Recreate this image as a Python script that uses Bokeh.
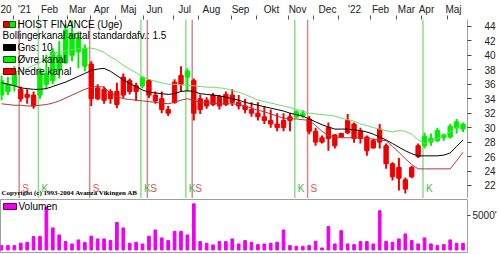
from bokeh.plotting import figure
from bokeh.layouts import column
from bokeh.models import Range1d, FixedTicker, Span, Label, BoxAnnotation, ColumnDataSource
from bokeh.embed import file_html
from bokeh.resources import INLINE

# ---------------- data (weekly bars, index = week number) ----------------
opens = [34.5, 35.0, 35.8, 35.3, 34.2, 34.5, 34.5, 37.5, 36.5, 40.0, 39.0, 43.0, 40.5, 41.0, 38.8, 34.0,
         35.3, 34.0, 35.0, 34.5, 36.5, 35.0, 35.8, 36.5, 34.5, 34.0, 32.5, 33.5, 36.0, 37.0, 36.5, 32.5,
         33.8, 33.2, 34.3, 33.2, 34.5, 33.5, 33.0, 32.5, 32.0, 31.5, 31.0, 30.5, 30.0, 31.0, 31.5, 32.0,
         31.2, 29.5, 28.0, 28.5, 29.0, 28.7, 29.3, 30.5, 28.5, 28.7, 27.2, 28.0, 27.5, 25.0, 23.0, 22.8,
         23.2, 26.0, 27.5, 28.5, 28.2, 29.0, 28.7, 30.0, 30.5]
highs = [37.2, 37.0, 38.5, 35.7, 35.3, 35.0, 38.2, 40.1, 41.0, 42.0, 44.3, 44.8, 43.3, 41.5, 39.2, 36.0,
         35.7, 35.3, 36.2, 37.5, 36.8, 36.2, 37.1, 36.7, 35.0, 35.0, 33.0, 36.7, 38.5, 38.2, 36.8, 34.6,
         34.2, 34.8, 34.5, 35.0, 35.3, 34.5, 34.0, 33.5, 33.5, 33.0, 32.5, 32.0, 32.0, 32.0, 32.4, 32.4,
         31.6, 30.0, 28.9, 30.7, 29.1, 29.3, 31.9, 30.7, 30.0, 28.9, 28.5, 30.5, 27.8, 25.2, 25.8, 23.1,
         24.7, 27.8, 29.3, 29.2, 30.0, 29.2, 30.5, 31.2, 30.7]
lows = [33.8, 34.5, 35.0, 33.6, 33.3, 32.6, 34.0, 35.3, 36.0, 36.8, 38.8, 39.2, 38.2, 37.8, 33.0, 33.8,
        33.3, 33.3, 32.7, 34.1, 34.6, 33.7, 35.5, 34.1, 33.3, 32.0, 31.6, 33.3, 35.0, 35.0, 31.0, 31.9,
        32.6, 33.0, 32.5, 33.0, 33.0, 32.5, 32.0, 31.5, 31.0, 30.5, 30.0, 29.5, 29.5, 29.5, 31.3, 31.3,
        29.1, 27.5, 27.8, 26.8, 27.1, 28.6, 29.1, 27.9, 27.8, 26.1, 27.1, 27.1, 24.3, 22.7, 21.3, 20.9,
        23.0, 25.8, 27.1, 27.5, 28.0, 28.2, 28.5, 29.2, 29.4]
closes = [36.5, 36.0, 37.8, 34.0, 34.6, 33.0, 37.8, 36.0, 40.5, 38.0, 43.5, 40.0, 42.5, 38.5, 34.0, 35.5,
          33.8, 35.0, 33.2, 37.0, 35.0, 35.8, 36.9, 34.5, 33.7, 32.5, 32.0, 36.3, 37.2, 37.8, 32.0, 34.0,
          33.0, 34.5, 33.0, 34.6, 33.5, 33.0, 32.5, 32.0, 31.5, 31.0, 30.5, 30.0, 31.0, 31.5, 32.2, 31.6,
          29.5, 28.0, 28.6, 30.0, 27.5, 29.2, 31.0, 28.5, 29.5, 26.8, 28.2, 29.8, 25.0, 23.2, 24.5, 21.5,
          24.5, 27.5, 28.8, 28.0, 29.6, 28.6, 30.2, 30.8, 29.8]
# Bollinger channel (Gns: 10, 1.5 std)
band_mid = [36.2, 36.0, 35.8, 35.5, 35.4, 35.3, 35.3, 35.4, 35.7, 36.0, 36.3, 36.7, 37.1, 37.5, 37.9, 38.1,
            38.2, 37.8, 37.2, 36.6, 36.1, 35.7, 35.2, 34.9, 34.8, 34.7, 34.6, 34.7, 35.0, 35.1, 35.0, 34.7,
            34.6, 34.5, 34.4, 34.2, 34.0, 33.8, 33.5, 33.3, 33.1, 32.9, 32.7, 32.5, 32.3, 32.0, 31.8, 31.6,
            31.2, 30.8, 30.4, 30.1, 29.8, 29.8, 29.8, 29.7, 29.6, 29.4, 29.1, 28.7, 28.3, 27.8, 27.3, 26.8,
            26.4, 26.1, 26.1, 26.1, 26.1, 26.2, 26.5, 27.4, 28.3]
band_upper = [37.5, 37.6, 37.7, 37.8, 38.2, 38.6, 39.0, 39.4, 40.3, 40.4, 40.6, 40.8, 40.9, 41.0, 41.0, 40.8,
              40.4, 39.8, 39.3, 38.6, 38.1, 37.6, 37.0, 36.7, 36.4, 36.2, 36.0, 36.0, 35.9, 35.9, 35.8, 35.7,
              35.6, 35.6, 35.5, 35.4, 35.1, 34.9, 34.6, 34.2, 33.8, 33.6, 33.4, 33.2, 33.0, 32.8, 32.5, 32.3,
              32.0, 31.9, 31.8, 31.7, 31.6, 31.3, 31.1, 30.9, 30.5, 30.3, 30.0, 29.8, 29.6, 29.4, 29.6, 29.5,
              29.1, 28.3, 27.8, 28.2, 28.5, 28.9, 29.4, 30.0, 30.6]
band_lower = [33.3, 33.2, 33.1, 33.1, 33.0, 33.0, 33.1, 33.2, 33.4, 33.7, 34.1, 34.5, 34.9, 35.3, 35.6, 35.7,
              35.6, 34.8, 34.3, 34.0, 33.9, 33.8, 33.7, 33.6, 33.5, 33.4, 33.3, 33.5, 33.8, 34.0, 33.8, 33.5,
              33.4, 33.4, 33.3, 33.3, 33.3, 33.2, 33.0, 32.7, 32.4, 32.2, 31.9, 31.6, 31.3, 31.2, 31.2, 31.1,
              31.0, 30.3, 29.5, 28.9, 28.7, 28.6, 28.6, 28.6, 28.6, 28.5, 28.4, 28.3, 28.2, 27.4, 26.6, 25.7,
              24.9, 24.3, 24.3, 24.3, 24.3, 24.3, 24.3, 25.4, 26.6]
volume = [630, 630, 630, 970, 1120, 1940, 1940, 6200, 3200, 2180, 1210, 870, 1460, 1070, 2000, 1600,
          1600, 1360, 4000, 3200, 970, 1120, 870, 2000, 2900, 1750, 1360, 2700, 2700, 2180, 6700, 1210,
          970, 730, 1210, 1210, 1600, 870, 1360, 1120, 780, 870, 970, 1120, 2900, 630, 530, 530,
          630, 1260, 290, 3400, 870, 2800, 870, 780, 1210, 1210, 870, 5700, 1260, 1120, 1600, 2330,
          1360, 870, 1750, 870, 630, 780, 1460, 970, 970]
buy_signals = [6, 22, 29, 46, 66]     # "K"
sell_signals = [3, 14, 23, 30, 48]    # "S"
price_ticks = [22, 24, 26, 28, 30, 32, 34, 36, 38, 40, 42, 44]
volume_ticks = [5000]
month_bounds = [1.87, 5.77, 10.30, 13.88, 17.78, 22.15, 26.83, 30.73, 35.88, 39.78, 44.77, 48.67,
                52.57, 57.57, 61.62, 65.52, 69.58]
month_label_pos = [0.39, 3.59, 7.49, 11.86, 15.60, 19.81, 23.87, 28.55, 32.76, 37.29, 42.12, 46.18,
                   50.86, 55.07, 59.13, 63.18, 66.30, 70.51]
month_labels = ["20", "'21", "Feb", "Mar", "Apr", "Maj", "Jun", "Jul", "Aug", "Sep", "Okt", "Nov",
                "Dec", "'22", "Feb", "Mar", "Apr", "Maj"]

GREEN = "#00ee00"
RED = "#ee0000"
FONT = "Liberation Sans"

n = len(closes)
x = list(range(n))
events = sorted([(i, "K") for i in buy_signals] + [(i, "S") for i in sell_signals])
colors = []
for i in x:
    state = "K"
    for ei, kind in events:
        if ei <= i:
            state = kind
    colors.append(GREEN if state == "K" else RED)

src = ColumnDataSource(dict(
    x=x, o=opens, h=highs, l=lows, c=closes, col=colors,
    bt=[max(a, b) for a, b in zip(opens, closes)],
    bb=[min(a, b) for a, b in zip(opens, closes)],
    mid=band_mid, up=band_upper, lo=band_lower, vol=volume))

xr = Range1d(-0.16, 72.7)

p = figure(width=500, height=198, x_range=xr, y_range=Range1d(20.2, 44.96),
           output_backend="svg", toolbar_location=None,
           x_axis_location="above", y_axis_location="right",
           min_border_left=0, min_border_right=33, min_border_top=0, min_border_bottom=0)
p.grid.visible = False
p.outline_line_color = None
p.background_fill_color = "white"
p.border_fill_color = "white"

# signal lines
for i in buy_signals:
    p.add_layout(Span(location=i - 0.25, dimension="height", line_color="#88e088",
                      line_width=1.5, level="underlay"))
    p.add_layout(Label(x=i - 0.25, y=10, x_units="data", y_units="screen", x_offset=3, text="K",
                       text_color="#44bb44", text_font=FONT, text_font_size="10px",
                       text_baseline="middle"))
for i in sell_signals:
    p.add_layout(Span(location=i - 0.25, dimension="height", line_color="#d08a8a",
                      line_width=1.5, level="underlay"))
    p.add_layout(Label(x=i - 0.25, y=10, x_units="data", y_units="screen", x_offset=3, text="S",
                       text_color="#dd5555", text_font=FONT, text_font_size="10px",
                       text_baseline="middle"))

# price bars
p.segment(x0="x", y0="l", x1="x", y1="h", source=src, line_color="col", line_width=2)
p.vbar(x="x", width=0.68, top="bt", bottom="bb", source=src, fill_color="col", line_color="col")

# bands
p.line("x", "up", source=src, line_color="#6fd86f", line_width=1)
p.line("x", "lo", source=src, line_color="#b03838", line_width=1)
p.line("x", "mid", source=src, line_color="black", line_width=1)

# axes
xa = p.xaxis[0]
xa.ticker = FixedTicker(ticks=month_label_pos, minor_ticks=month_bounds)
xa.major_label_overrides = {pos: lab for pos, lab in zip(month_label_pos, month_labels)}
xa.axis_line_color = None
xa.major_tick_out = 0
xa.major_tick_in = 0
xa.minor_tick_out = 4
xa.minor_tick_in = 0
xa.minor_tick_line_color = "#555555"
xa.major_label_standoff = 1
xa.major_label_text_font = FONT
xa.major_label_text_font_size = "10px"
xa.major_label_text_color = "#222222"

ya = p.yaxis[0]
ya.ticker = FixedTicker(ticks=price_ticks, minor_ticks=[])
ya.axis_line_color = "#a0a0a0"
ya.major_tick_out = 4
ya.major_tick_in = 0
ya.major_tick_line_color = "#444444"
ya.major_label_standoff = 13
ya.major_label_text_font = FONT
ya.major_label_text_font_size = "10px"
ya.major_label_text_color = "#222222"

# legend (drawn by hand, frame-relative screen units)
def box(ax, left, right, top, bottom, fill, line):
    ax.add_layout(BoxAnnotation(left=left, right=right, top=top, bottom=bottom,
                                left_units="screen", right_units="screen",
                                top_units="screen", bottom_units="screen",
                                fill_color=fill, fill_alpha=1, line_color=line, line_alpha=1,
                                line_width=1, level="overlay"))

def label(ax, xx, yy, txt, size="10px", font=FONT, style="normal", color="black"):
    ax.add_layout(Label(x=xx, y=yy, x_units="screen", y_units="screen", text=txt,
                        text_font=font, text_font_size=size, text_font_style=style,
                        text_color=color, text_baseline="middle", level="overlay"))

box(p, 3, 9, 177, 171, "#ee0000", "#700000")
box(p, 9, 15, 177, 171, "#00ee00", "#006000")
label(p, 17, 174, "HOIST FINANCE (Uge)")
label(p, 2, 163, "Bollingerkanal antal standardafv.: 1.5")
box(p, 3, 15, 154, 148, "#000000", "#000000")
label(p, 17, 151, "Gns: 10")
box(p, 3, 15, 142, 136, "#00ee00", "#006000")
label(p, 17, 139, "Øvre kanal")
box(p, 3, 15, 130, 124, "#ee0000", "#700000")
label(p, 17, 127, "Nedre kanal")
label(p, 1, 6, "Copyright (c) 1993-2004 Avanza Vikingen AB", size="7px",
      font="Liberation Serif", style="bold")

# ---------------- volume panel ----------------
v = figure(width=500, height=56, x_range=xr, y_range=Range1d(-370, 7330),
           output_backend="svg", toolbar_location=None,
           x_axis_location=None, y_axis_location="right",
           min_border_left=0, min_border_right=33, min_border_top=1, min_border_bottom=2)
v.grid.visible = False
v.outline_line_color = "#a0a0a0"
v.vbar(x="x", width=0.42, top="vol", bottom=0, source=src, fill_color="#ee00ee", line_color="#ee00ee")
vy = v.yaxis[0]
vy.ticker = FixedTicker(ticks=volume_ticks, minor_ticks=[])
vy.major_label_overrides = {t: f"{t}'" for t in volume_ticks}
vy.axis_line_color = None
vy.major_tick_out = 3
vy.major_tick_in = 0
vy.major_tick_line_color = "#444444"
vy.major_label_standoff = 2
vy.major_label_text_font = FONT
vy.major_label_text_font_size = "10px"
vy.major_label_text_color = "#222222"

box(v, 3, 16, 49, 43, "#ee00ee", "#600060")
label(v, 18, 46, "Volumen")

layout = column(p, v, spacing=0)
open("out.html", "w").write(file_html(layout, INLINE))
